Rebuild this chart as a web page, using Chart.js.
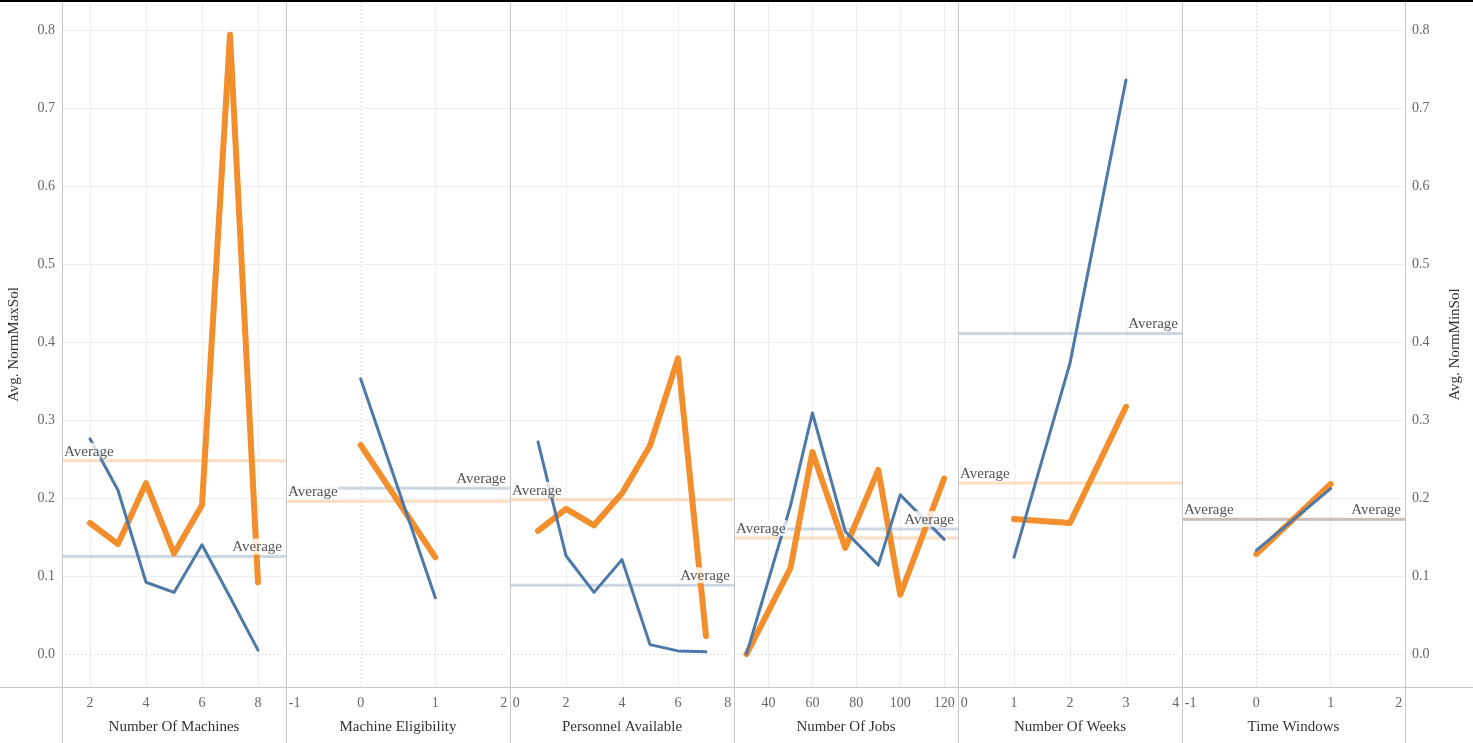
<!DOCTYPE html>
<html>
<head>
<meta charset="utf-8">
<title>NormMaxSol / NormMinSol</title>
<script src="https://cdn.jsdelivr.net/npm/chart.js@4.4.1/dist/chart.umd.min.js"></script>
<style>
  html, body { margin: 0; padding: 0; background: #fff; }
  body { width: 1473px; height: 743px; position: relative; overflow: hidden; }
  canvas { position: absolute; top: 0; }
  .vline { position: absolute; top: 0; width: 1px; height: 743px; background: #c8c8c8; }
  .hline { position: absolute; left: 0; top: 687px; width: 1473px; height: 1px; background: #c8c8c8; }
  .topline { position: absolute; left: 0; top: 0; width: 1473px; height: 2px; background: #000; }
</style>
</head>
<body>
<div id="wrap"></div>
<script>
// values
const panelTitles = ["Number Of Machines", "Machine Eligibility", "Personnel Available",
                     "Number Of Jobs", "Number Of Weeks", "Time Windows"];

const machinesX = [2, 3, 4, 5, 6, 7, 8];
const machinesMaxSol = [0.168, 0.141, 0.219, 0.129, 0.191, 0.794, 0.092];
const machinesMinSol = [0.276, 0.210, 0.092, 0.079, 0.140, 0.073, 0.005];

const eligibilityX = [0, 1];
const eligibilityMaxSol = [0.268, 0.124];
const eligibilityMinSol = [0.353, 0.072];

const personnelX = [1, 2, 3, 4, 5, 6, 7];
const personnelMaxSol = [0.158, 0.186, 0.165, 0.206, 0.267, 0.379, 0.023];
const personnelMinSol = [0.272, 0.126, 0.079, 0.121, 0.012, 0.004, 0.003];

const jobsX = [30, 50, 60, 75, 90, 100, 120];
const jobsMaxSol = [0.000, 0.110, 0.259, 0.136, 0.236, 0.076, 0.225];
const jobsMinSol = [0.000, 0.190, 0.309, 0.157, 0.114, 0.204, 0.147];

const weeksX = [1, 2, 3];
const weeksMaxSol = [0.173, 0.168, 0.317];
const weeksMinSol = [0.124, 0.373, 0.736];

const windowsX = [0, 1];
const windowsMaxSol = [0.128, 0.218];
const windowsMinSol = [0.133, 0.212];

const xTickLabels = [[2, 4, 6, 8], [-1, 0, 1, 2], [0, 2, 4, 6, 8],
                     [40, 60, 80, 100, 120], [0, 1, 2, 3, 4], [-1, 0, 1, 2]];
const xRanges = [[1, 9], [-1, 2], [0, 8], [24.3, 126.3], [0, 4], [-1, 2]];
const yTickLabels = [0, 0.1, 0.2, 0.3, 0.4, 0.5, 0.6, 0.7, 0.8];
const yRange = [-0.0423, 0.836];

const panels = [
  [machinesX, machinesMaxSol, machinesMinSol],
  [eligibilityX, eligibilityMaxSol, eligibilityMinSol],
  [personnelX, personnelMaxSol, personnelMinSol],
  [jobsX, jobsMaxSol, jobsMinSol],
  [weeksX, weeksMaxSol, weeksMinSol],
  [windowsX, windowsMaxSol, windowsMinSol]
];

const ORANGE = "#f28e2b";
const BLUE = "#4e79a7";
const SERIF = "'Liberation Serif', 'Times New Roman', serif";
const panelLeft = [62, 286, 510, 734, 958, 1182];
const panelRight = [286, 510, 734, 958, 1182, 1405];

const mean = arr => arr.reduce((a, b) => a + b, 0) / arr.length;

// frame
const wrap = document.getElementById("wrap");
panelLeft.concat([1405]).forEach(x => {
  const d = document.createElement("div");
  d.className = "vline";
  d.style.left = x + "px";
  wrap.appendChild(d);
});

const noPad = s => { s.paddingTop = 0; s.paddingBottom = 0; s.paddingLeft = 0; s.paddingRight = 0; };

const decor = {
  id: "decor",
  beforeDatasetsDraw(chart, args, opts) {
    const { ctx, chartArea: a, scales } = chart;
    ctx.save();
    ctx.strokeStyle = "#c4c4c4";
    ctx.lineWidth = 1;
    ctx.setLineDash([1, 3]);
    const y0 = Math.round(scales.y.getPixelForValue(0)) + 0.5;
    ctx.beginPath(); ctx.moveTo(a.left, y0); ctx.lineTo(a.right, y0); ctx.stroke();
    const x0 = scales.x.getPixelForValue(0);
    if (x0 > a.left + 2 && x0 < a.right - 2) {
      const xx = Math.round(x0) + 0.5;
      ctx.beginPath(); ctx.moveTo(xx, a.top); ctx.lineTo(xx, a.bottom); ctx.stroke();
    }
    ctx.setLineDash([]);
    ctx.lineWidth = 3;
    opts.lines.forEach(l => {
      const y = scales[l.axis].getPixelForValue(l.value);
      ctx.strokeStyle = l.color;
      ctx.beginPath(); ctx.moveTo(a.left, y); ctx.lineTo(a.right, y); ctx.stroke();
    });
    ctx.restore();
  },
  afterDatasetsDraw(chart, args, opts) {
    const { ctx, chartArea: a, scales } = chart;
    ctx.save();
    ctx.font = "15px " + SERIF;
    ctx.textBaseline = "middle";
    opts.lines.forEach(l => {
      const y = scales[l.axis].getPixelForValue(l.value) - 10;
      const w = ctx.measureText("Average").width;
      const x = l.side === "left" ? a.left + 2 : a.right - 4 - w;
      ctx.fillStyle = "rgba(255,255,255,0.8)";
      ctx.fillRect(x - 1, y - 8, w + 2, 16);
      ctx.fillStyle = "#555";
      ctx.textAlign = "left";
      ctx.fillText("Average", x, y + 1);
    });
    if (opts.rightTitle) {
      ctx.translate(chart.width - 18, (a.top + a.bottom) / 2);
      ctx.rotate(-Math.PI / 2);
      ctx.textAlign = "center";
      ctx.fillStyle = "#333";
      ctx.fillText(opts.rightTitle, 0, 0);
    }
    ctx.restore();
  }
};

function makeChart(i) {
  const first = i === 0, last = i === panels.length - 1;
  const [xs, maxSol, minSol] = panels[i];
  const left = first ? 0 : panelLeft[i];
  const right = last ? 1473 : panelRight[i];
  const canvas = document.createElement("canvas");
  canvas.width = right - left;
  canvas.height = 743;
  canvas.style.left = left + "px";
  document.body.insertBefore(canvas, wrap);

  const gridColor = c => (c.tick && c.tick.value === 0) ? "rgba(0,0,0,0)" : "#eeeeee";
  const tickFont = { family: SERIF, size: 14 };
  const inner = xTickLabels[i][0] === xRanges[i][0];
  // labels sitting on a panel edge are nudged inward a little, as in the reference
  const xLabel = (v, k, ticks) => {
    if (!inner) return String(v);
    if (k === 0) return "\u2009" + v;
    if (k === ticks.length - 1) return v + "\u2009";
    return String(v);
  };

  new Chart(canvas, {
    type: "line",
    data: {
      datasets: [
        { label: "Avg. NormMinSol", yAxisID: "y2", borderColor: BLUE, borderWidth: 3,
          data: xs.map((x, k) => ({ x: x, y: minSol[k] })) },
        { label: "Avg. NormMaxSol", yAxisID: "y", borderColor: ORANGE, borderWidth: 6,
          data: xs.map((x, k) => ({ x: x, y: maxSol[k] })) }
      ]
    },
    options: {
      responsive: false,
      animation: false,
      devicePixelRatio: 1,
      layout: { padding: { top: 2, left: 0, right: 0, bottom: 0 } },
      elements: {
        point: { radius: 0, hoverRadius: 0 },
        line: { tension: 0, borderCapStyle: "round", borderJoinStyle: "round", fill: false }
      },
      plugins: {
        legend: { display: false },
        tooltip: { enabled: false },
        decor: {
          lines: [
            { axis: "y", value: mean(maxSol), color: "rgba(242,142,43,0.3)", side: "left" },
            { axis: "y2", value: mean(minSol), color: "rgba(78,121,167,0.3)", side: "right" }
          ],
          rightTitle: last ? "Avg. NormMinSol" : null
        }
      },
      scales: {
        x: {
          type: "linear",
          min: xRanges[i][0],
          max: xRanges[i][1],
          afterBuildTicks: s => { s.ticks = xTickLabels[i].map(v => ({ value: v })); },
          afterFit: s => { s.height = 56; noPad(s); },
          ticks: { align: inner ? "inner" : "center", padding: 8, maxRotation: 0,
                   autoSkip: false, color: "#666", font: tickFont, callback: xLabel },
          grid: { drawTicks: false, color: gridColor },
          border: { display: false },
          title: { display: true, text: panelTitles[i], color: "#333",
                   font: { family: SERIF, size: 15 }, padding: { top: 0, bottom: 7 } }
        },
        y: {
          position: "left",
          min: yRange[0],
          max: yRange[1],
          afterBuildTicks: s => { s.ticks = yTickLabels.map(v => ({ value: v })); },
          afterFit: s => { s.width = first ? 62 : 0; noPad(s); },
          ticks: { display: first, padding: 7, color: "#666", font: tickFont,
                   callback: v => v.toFixed(1) },
          grid: { drawTicks: false, color: gridColor },
          border: { display: false },
          title: { display: first, text: "Avg. NormMaxSol", color: "#333",
                   font: { family: SERIF, size: 15 }, padding: { top: 5, bottom: 0 } }
        },
        y2: {
          position: "right",
          display: last,
          min: yRange[0],
          max: yRange[1],
          afterBuildTicks: s => { s.ticks = yTickLabels.map(v => ({ value: v })); },
          afterFit: s => { s.width = last ? 68 : 0; noPad(s); },
          ticks: { padding: 7, color: "#666", font: tickFont, callback: v => v.toFixed(1) },
          grid: { drawOnChartArea: false, drawTicks: false },
          border: { display: false }
        }
      }
    },
    plugins: [decor]
  });
}

panels.forEach((p, i) => makeChart(i));

const h = document.createElement("div");
h.className = "hline";
wrap.appendChild(h);
const t = document.createElement("div");
t.className = "topline";
wrap.appendChild(t);
</script>
</body>
</html>
